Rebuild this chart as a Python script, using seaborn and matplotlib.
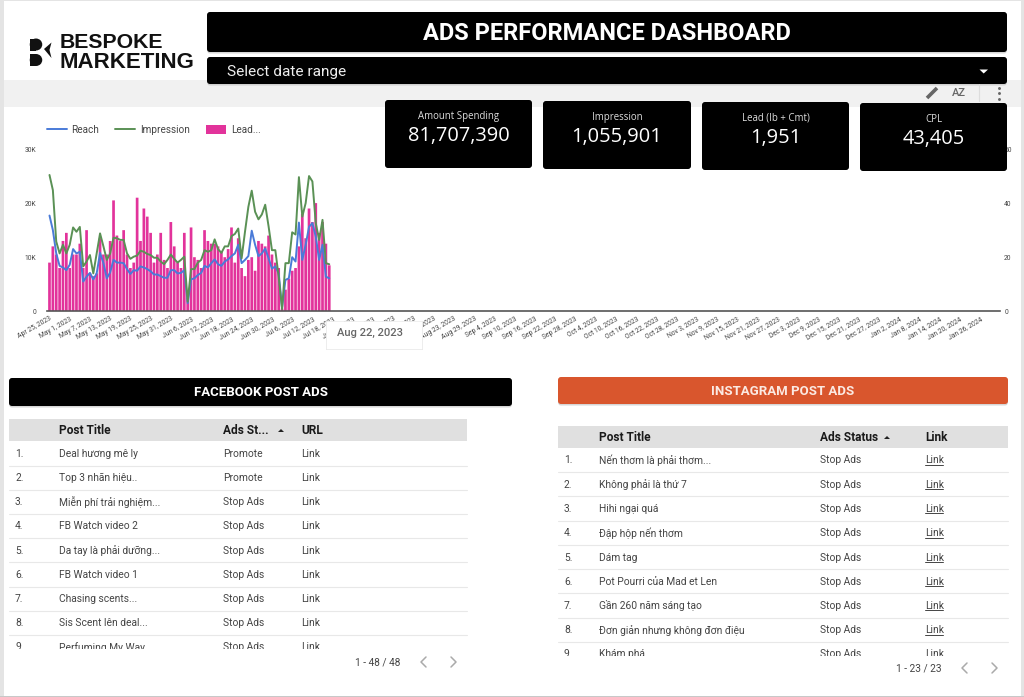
#!/usr/bin/env python
#
# Ads performance dashboard: combo chart, KPI cards and two post tables

import numpy as np
import pandas as pd
import matplotlib
matplotlib.use('Agg')
import matplotlib.pyplot as plt
import seaborn as sns
from matplotlib.patches import Ellipse, FancyBboxPatch, Polygon, Rectangle
from matplotlib.ticker import FuncFormatter

leads = [18, 24, 21, 16, 26, 29, 16, 21, 21, 25, 16, 30, 14, 13, 14, 27, 21, 21, 26, 41, 28,
         26, 30, 21, 16, 18, 42, 26, 38, 35, 29, 18, 21, 29, 19, 16, 33, 24, 18, 16, 29, 5,
         31, 20, 19, 16, 30, 26, 25, 25, 24, 22, 20, 23, 31, 18, 27, 16, 13, 19, 20, 15,
         26, 25, 24, 28, 21, 18, 16, 1, 8, 12, 15, 16, 24, 36, 27, 38, 33, 40, 29, 33, 25, 17]
reach = [17700, 15000, 10700, 8400, 8100, 7600, 8600, 11500, 10700, 11000, 5500, 6400, 7100, 5900,
         7000, 10800, 8900, 6100, 7200, 9500, 9000, 9000, 8900, 7800, 6900, 7600, 7500, 8300,
         8100, 7800, 7400, 6800, 6800, 6500, 6200, 6200, 7600, 7600, 7000, 7100, 7600, 1500,
         5900, 6100, 6700, 7100, 8400, 8100, 8900, 9600, 8700, 8400, 9200, 9600, 10200, 10700,
         12300, 8900, 9500, 10200, 14900, 12300, 10200, 10700, 11600, 9800, 7900, 8300, 7000, 600,
         5800, 6100, 10000, 9200, 16400, 9500, 12300, 15600, 16300, 13800, 9500, 12300, 6400, 6100]
impression = [25200, 22400, 12900, 10700, 12300, 10700, 12300, 15500, 14700, 15600, 8300, 9200, 10400, 7000,
              10700, 14400, 12000, 9500, 10700, 13600, 13500, 13200, 13200, 10700, 9700, 10100, 10300, 11200,
              11000, 10600, 10400, 9900, 9900, 9200, 8700, 9500, 10500, 9700, 9000, 9500, 10100, 1800,
              7800, 7800, 9000, 9500, 11300, 11000, 11300, 13300, 11500, 10800, 12000, 12000, 13900, 14300,
              15300, 9800, 14700, 19300, 22300, 18400, 17000, 17900, 19700, 15700, 11300, 11300, 6400, 400,
              8900, 8900, 14600, 14200, 24800, 17500, 20000, 25000, 24000, 16300, 13200, 16900, 8900, 8700]
tick_labels = ['Apr 25, 2023', 'May 1, 2023', 'May 7, 2023', 'May 13, 2023', 'May 19, 2023', 'May 25, 2023',
               'May 31, 2023', 'Jun 6, 2023', 'Jun 12, 2023', 'Jun 18, 2023', 'Jun 24, 2023', 'Jun 30, 2023',
               'Jul 6, 2023', 'Jul 12, 2023', 'Jul 18, 2023', 'Jul 24, 2023', 'Jul 30, 2023', 'Aug 5, 2023',
               'Aug 11, 2023', 'Aug 17, 2023', 'Aug 23, 2023', 'Aug 29, 2023', 'Sep 4, 2023', 'Sep 10, 2023',
               'Sep 16, 2023', 'Sep 22, 2023', 'Sep 28, 2023', 'Oct 4, 2023', 'Oct 10, 2023', 'Oct 16, 2023',
               'Oct 22, 2023', 'Oct 28, 2023', 'Nov 3, 2023', 'Nov 9, 2023', 'Nov 15, 2023', 'Nov 21, 2023',
               'Nov 27, 2023', 'Dec 3, 2023', 'Dec 9, 2023', 'Dec 15, 2023', 'Dec 21, 2023', 'Dec 27, 2023',
               'Jan 2, 2024', 'Jan 8, 2024', 'Jan 14, 2024', 'Jan 20, 2024', 'Jan 26, 2024']

kpi_labels = ['Amount Spending', 'Impression', 'Lead (Ib + Cmt)', 'CPL']
kpi_values = ['81,707,390', '1,055,901', '1,951', '43,405']

fb_titles = ['Deal hương mê ly', 'Top 3 nhãn hiệu..', 'Miễn phí trải nghiệm...', 'FB Watch video 2',
             'Da tay là phải dưỡng...', 'FB Watch video 1', 'Chasing scents...', 'Sis Scent lên deal...',
             'Perfuming My Way']
fb_status = ['Promote', 'Promote'] + ['Stop Ads'] * 7
ig_titles = ['Nến thơm là phải thơm...', 'Không phải là thứ 7', 'Hihi ngại quá', 'Đập hộp nến thơm', 'Dám tag',
             'Pot Pourri của Mad et Len', 'Gần 260 năm sáng tạo', 'Đơn giản nhưng không đơn điệu', 'Khám phá']
ig_status = ['Stop Ads'] * 9

W, H = 1024, 697
TEXT = '#444444'
ROW_SIZE = 7.35

sns.set_theme(style='white')
plt.rcParams['font.family'] = ['Roboto', 'DejaVu Sans']


def rounded(ax, x0, y0, x1, y1, color, radius=3, zorder=2, shadow=True):
    if shadow:
        ax.add_patch(FancyBboxPatch((x0 + radius, y0 + radius + 1.5), x1 - x0 - 2 * radius, y1 - y0 - 2 * radius,
                                    boxstyle='round,pad=%d,rounding_size=%d' % (radius, radius),
                                    fc='#bbbbbb', ec='none', alpha=0.6, zorder=zorder - 0.1))
    ax.add_patch(FancyBboxPatch((x0 + radius, y0 + radius), x1 - x0 - 2 * radius, y1 - y0 - 2 * radius,
                                boxstyle='round,pad=%d,rounding_size=%d' % (radius, radius),
                                fc=color, ec='none', zorder=zorder))


def draw_table(ax, x0, x1, head_top, row_y, sep_y, col_x, headers, titles, status, sort_x, clip_y,
               footer, footer_y, footer_x, chevrons, underline):
    ax.add_patch(Rectangle((x0, head_top), x1 - x0, 22, fc='#e0e0e0', ec='none', zorder=2))
    for x, label in zip(col_x, headers):
        ax.text(x, head_top + 11.5, label, fontsize=8.6, fontweight='bold', color='#1a1a1a', va='center', zorder=3)
    ax.add_patch(Polygon([(sort_x - 3, head_top + 13), (sort_x + 3, head_top + 13), (sort_x, head_top + 10)],
                         fc='#222222', ec='none', zorder=3))
    for y in sep_y:
        ax.plot([x0, x1], [y, y], color='#e8e8e8', lw=0.8, zorder=2)
    for i, y in enumerate(row_y):
        ax.text(x0 + 6, y + 0.6, '%d.' % (i + 1), fontsize=ROW_SIZE, color=TEXT, va='center', zorder=3)
        ax.text(col_x[0], y + 0.6, titles[i], fontsize=ROW_SIZE, color=TEXT, va='center', zorder=3)
        ax.text(col_x[1], y + 0.6, status[i], fontsize=ROW_SIZE, color=TEXT, va='center', zorder=3)
        ax.text(col_x[2], y + 0.6, 'Link', fontsize=ROW_SIZE, color=TEXT, va='center', zorder=3)
        if underline and i < 8:
            ax.plot([col_x[2], col_x[2] + 18], [y + 5.4, y + 5.4], color=TEXT, lw=0.7, zorder=3)
    # last row is cut off by the table footer
    ax.add_patch(Rectangle((x0 - 1, clip_y), x1 - x0 + 2, 12, fc='white', ec='none', zorder=4))
    ax.text(footer_x, footer_y, footer, fontsize=7.25, color=TEXT, va='center', zorder=5)
    for cx, sign in zip(chevrons, (1, -1)):
        ax.plot([cx + 2.5 * sign, cx - 2.5 * sign, cx + 2.5 * sign], [footer_y - 5, footer_y, footer_y + 5],
                color='#aaaaaa', lw=1.1, zorder=5)


fig = plt.figure(figsize=(W / 100, H / 100), dpi=100, facecolor='white')

# page background, behind the chart
back = fig.add_axes([0, 0, 1, 1], zorder=0)
back.set_xlim(0, W)
back.set_ylim(H, 0)
back.axis('off')
back.add_patch(Rectangle((0, 80), W, 27, fc='#f1f1f1', ec='none'))
back.add_patch(Rectangle((0, 0), 4, H, fc='#e4e4e4', ec='none'))
back.add_patch(Rectangle((1021, 0), 3, H, fc='#e4e4e4', ec='none'))
back.add_patch(Rectangle((0, 0), W, 1, fc='#e4e4e4', ec='none'))
back.add_patch(Rectangle((0, 695.5), W, 2, fc='#c8c8c8', ec='none'))

# combo chart: leads on the right axis, reach and impression on the left one
df = pd.DataFrame({'day': np.arange(len(leads)), 'leads': leads, 'reach': reach, 'impression': impression})
rect = [47 / W, 1 - 311.3 / H, (1000 - 47) / W, (311.3 - 149) / H]
ax_bars = fig.add_axes(rect, zorder=1)
ax = ax_bars.twinx()
ax.set_zorder(2)
ax.patch.set_visible(False)
ax_bars.patch.set_visible(False)

sns.barplot(data=df, x='day', y='leads', native_scale=True, color='#e2339b', saturation=1, width=0.8,
            linewidth=0, errorbar=None, ax=ax_bars)
# no pixel snapping, otherwise the gaps between the thin bars come out uneven
for bar in ax_bars.patches:
    bar.set_snap(False)
sns.lineplot(data=df, x='day', y='reach', color='#4a7bd8', lw=1.4, label='Reach', ax=ax)
sns.lineplot(data=df, x='day', y='impression', color='#5a9155', lw=1.4, label='Impression', ax=ax)

tick_days = np.arange(len(tick_labels)) * 6
ax_bars.set_xlim(-0.74, 282)
ax_bars.set_ylim(0, 60)
ax.set_ylim(0, 30000)
ax.set_xlim(-0.74, 282)
ax_bars.set_xticks(tick_days)
ax_bars.set_xticklabels(tick_labels, rotation=30, ha='right', rotation_mode='anchor', fontsize=4.9, color=TEXT)
ax_bars.yaxis.tick_right()
ax_bars.set_yticks([0, 20, 40, 60])
ax.yaxis.tick_left()
ax.set_yticks([0, 10000, 20000, 30000])
ax.yaxis.set_major_formatter(FuncFormatter(lambda v, p: '0' if v == 0 else '%dK' % (v / 1000)))
ax_bars.tick_params(axis='both', length=0, pad=3, labelsize=4.9, labelcolor=TEXT)
ax.tick_params(axis='y', length=0, pad=8, labelsize=4.9, labelcolor=TEXT)
ax.tick_params(axis='x', length=0, labelbottom=False)
ax_bars.set_xlabel('')
ax_bars.set_ylabel('')
ax.set_xlabel('')
ax.set_ylabel('')
for a in (ax, ax_bars):
    for side in ('top', 'left', 'right'):
        a.spines[side].set_visible(False)
ax.spines['bottom'].set_visible(False)
ax_bars.spines['bottom'].set_color('#555555')
ax_bars.spines['bottom'].set_linewidth(1.2)

handles, labels = ax.get_legend_handles_labels()
handles.append(Rectangle((0, 0), 1, 1, fc='#e2339b', ec='none'))
labels.append('Lead...')
ax.legend(handles, labels, ncols=3, frameon=False, loc='center left', fontsize=7.2, labelcolor=TEXT,
          bbox_to_anchor=(46.5 / W, 1 - 130 / H), bbox_transform=fig.transFigure, borderpad=0, borderaxespad=0,
          handlelength=2.0, handletextpad=0.5, columnspacing=1.6, handleheight=1.0)

# everything in front of the chart, in pixel coordinates
front = fig.add_axes([0, 0, 1, 1], zorder=3)
front.set_xlim(0, W)
front.set_ylim(H, 0)
front.axis('off')
front.patch.set_visible(False)

# logo
for top in (38.5, 54):
    front.add_patch(Ellipse((36, top + 6), 12.5, 12, fc='#111111', ec='none'))
    front.add_patch(Rectangle((30, top), 6, 12, fc='#111111', ec='none'))
front.add_patch(Polygon([(51.5, 42.5), (44, 49), (51.5, 58), (49.5, 50)], fc='#111111', ec='none'))
front.text(59.5, 42, 'BESPOKE', fontsize=15.3, fontweight='bold', family='Liberation Sans', color='#111111', va='center')
front.text(59.5, 62.8, 'MARKETING', fontsize=16, fontweight='bold', family='Liberation Sans', color='#111111', va='center')

# title and date filter
rounded(front, 207, 12, 1007, 52, '#000000')
front.text(607, 33.5, 'ADS PERFORMANCE DASHBOARD', fontsize=17, fontweight='bold', color='white',
           ha='center', va='center', zorder=3)
rounded(front, 207, 57, 1007, 84, '#000000')
front.text(227, 72, 'Select date range', fontsize=11.1, color='#eeeeee', va='center', zorder=3)
front.add_patch(Polygon([(979.5, 69.5), (988, 69.5), (983.7, 73.5)], fc='white', ec='none', zorder=3))

# toolbar icons
front.plot([927, 937], [98, 88], color='#666666', lw=2.6, solid_capstyle='butt')
front.text(958.5, 92.5, 'AZ', fontsize=8, color='#666666', ha='center', va='center', fontweight='medium')
front.plot([979, 979], [84, 101], color='#dddddd', lw=0.8)
front.plot([999, 999, 999], [87.5, 93, 98.5], ls='none', marker='o', ms=2.1, color='#666666', mew=0)

# KPI cards
card_x = [(385, 532), (543, 691), (702, 849), (860, 1007)]
card_y = [100, 101, 102, 103]
for (x0, x1), y0, label, value in zip(card_x, card_y, kpi_labels, kpi_values):
    rounded(front, x0, y0, x1, y0 + 68, '#000000', shadow=False)
    cx = (x0 + x1) / 2
    front.text(cx, y0 + 16.5, label, fontsize=6.9, family='Open Sans', color='#dddddd', ha='center', va='center', zorder=3)
    front.text(cx, y0 + 35.8, value, fontsize=14.4, family='Open Sans', color='white', ha='center', va='center', zorder=3)

# tooltip over the date axis
front.add_patch(Rectangle((325.5, 321.5), 97, 28.5, fc='#d8d8d8', ec='none', zorder=2))
front.add_patch(Rectangle((326, 321), 96, 28, fc='white', ec='#eeeeee', lw=0.6, zorder=2))
front.text(337, 333, 'Aug 22, 2023', fontsize=8, fontweight='medium', color='#666666', va='center', zorder=3)

# facebook block
rounded(front, 9, 378, 512, 406, '#000000')
front.text(260.5, 393, 'FACEBOOK POST ADS', fontsize=9.5, fontweight='bold', color='white',
           ha='center', va='center', zorder=3)
draw_table(front, 9, 467, 419, [453, 477, 501.5, 525.7, 550, 574, 598, 622.5, 646.5],
           [465.5, 489.5, 514, 538, 562, 586.5, 610.5, 635], [59, 223, 301],
           ['Post Title', 'Ads St...', 'URL'], fb_titles, fb_status, 281, 648.5,
           '1 - 48 / 48', 662, 355, (423.5, 453.5), False)

# instagram block
rounded(front, 558, 377, 1008, 404, '#d9562d')
front.text(783, 391.5, 'INSTAGRAM POST ADS', fontsize=9.5, fontweight='bold', color='#fbe9e2',
           ha='center', va='center', zorder=3)
draw_table(front, 558, 1008, 426, [459.5, 484, 508, 532.5, 557, 581, 605, 629.5, 653.5],
           [471.5, 496, 520.5, 545, 569, 593, 617.5, 642], [599, 820, 925],
           ['Post Title', 'Ads Status', 'Link'], ig_titles, ig_status, 887, 656,
           '1 - 23 / 23', 668, 896, (964.5, 994.5), True)

fig.savefig('out.png', dpi=100)
